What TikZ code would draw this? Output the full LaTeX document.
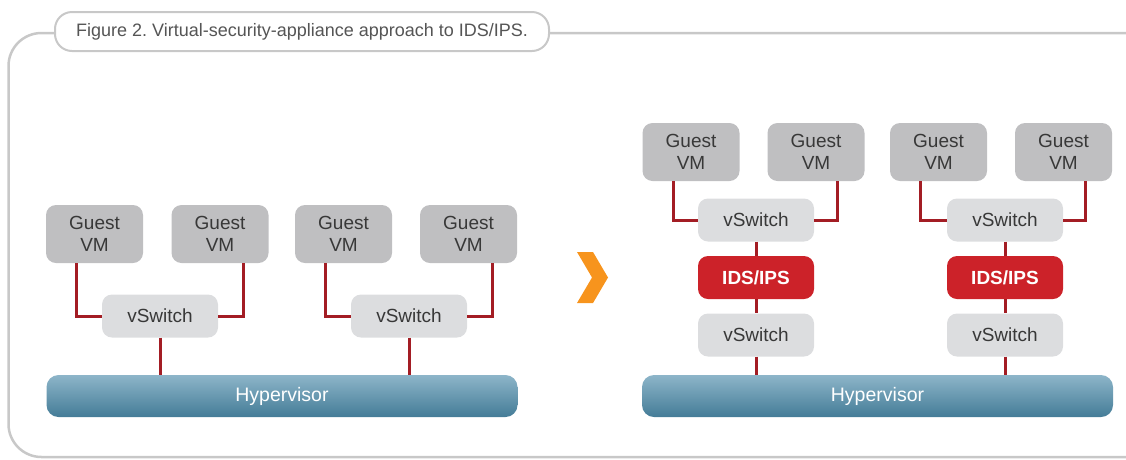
\documentclass[tikz,border=0pt]{standalone}
\usepackage{fontspec}
\setmainfont{Liberation Sans}
\frenchspacing
\definecolor{framegray}{HTML}{C8C8C8}
\definecolor{titletext}{HTML}{555555}
\definecolor{vmgray}{HTML}{BFBFC1}
\definecolor{swgray}{HTML}{DCDDDF}
\definecolor{idsred}{HTML}{CC2229}
\definecolor{linkred}{HTML}{A31D24}
\definecolor{hvtop}{HTML}{8DB5C9}
\definecolor{hvbot}{HTML}{447C97}
\definecolor{labeltext}{HTML}{383838}
\definecolor{chevron}{HTML}{F7941D}
\tikzset{
  vmbox/.style={fill=vmgray, rounded corners=10pt, minimum width=97pt, minimum height=58pt,
    inner sep=0pt, align=center, text=labeltext, font=\fontsize{19}{22}\selectfont},
  swbox/.style={fill=swgray, rounded corners=10pt, minimum width=116pt, minimum height=43pt,
    inner sep=0pt, text=labeltext, font=\fontsize{19}{22}\selectfont},
  idsbox/.style={fill=idsred, rounded corners=10pt, minimum width=116pt, minimum height=43pt,
    inner sep=0pt, text=white, font=\fontsize{19}{22}\selectfont\bfseries},
  hvbox/.style={top color=hvtop, bottom color=hvbot, rounded corners=12pt,
    minimum width=471pt, minimum height=42pt, inner sep=0pt, text=white,
    font=\fontsize{19.5}{22}\selectfont},
  link/.style={draw=linkred, line width=3pt}
}
\begin{document}
\begin{tikzpicture}[x=1pt, y=-1pt]
\useasboundingbox (0,0) rectangle (1126,459);
% outer frame, open to the right
\begin{scope}
\clip (0,0) rectangle (1126,459);
\draw[framegray, line width=2.5pt, rounded corners=33pt] (8.5,33) rectangle (1160,457);
\end{scope}
% caption tab
\node (title) [draw=framegray, line width=2pt, fill=white, rounded corners=17pt,
  minimum width=494pt, minimum height=39pt, inner sep=0pt, text=titletext,
  font=\fontsize{18}{20}\selectfont] at (302,31.5)
  {Figure 2. Virtual-security-appliance approach to IDS/IPS.};

% ---- left: guests attached directly to vSwitches ----
\node (lvm1) [vmbox] at (94.5,234) {Guest\\VM};
\node (lvm2) [vmbox] at (220,234) {Guest\\VM};
\node (lvm3) [vmbox] at (343.5,234) {Guest\\VM};
\node (lvm4) [vmbox] at (468.5,234) {Guest\\VM};
\node (lsw1) [swbox] at (160,316) {vSwitch};
\node (lsw2) [swbox] at (409,316) {vSwitch};
\node (lhv) [hvbox] at (282,396) {Hypervisor};

\draw[link] ([xshift=31pt]lvm1.south west) |- (lsw1.west);
\draw[link] ([xshift=-25pt]lvm2.south east) |- (lsw1.east);
\draw[link] ([xshift=31pt]lvm3.south west) |- (lsw2.west);
\draw[link] ([xshift=-25pt]lvm4.south east) |- (lsw2.east);
\draw[link] (lsw1.south) -- (lsw1.south |- lhv.north);
\draw[link] (lsw2.south) -- (lsw2.south |- lhv.north);

% ---- arrow ----
\fill[chevron] (577,252) -- (593,252) -- (608,277.5) -- (593,303) -- (577,303) -- (592,277.5) -- cycle;

% ---- right: IDS/IPS appliance between two vSwitches ----
\node (rvm1) [vmbox] at (691,152) {Guest\\VM};
\node (rvm2) [vmbox] at (816,152) {Guest\\VM};
\node (rvm3) [vmbox] at (938.5,152) {Guest\\VM};
\node (rvm4) [vmbox] at (1063.5,152) {Guest\\VM};
\node (rsw1) [swbox] at (756,220) {vSwitch};
\node (rids1) [idsbox] at (756,277.5) {IDS/IPS};
\node (rswb1) [swbox] at (756,335) {vSwitch};
\node (rsw2) [swbox] at (1005,220) {vSwitch};
\node (rids2) [idsbox] at (1005,277.5) {IDS/IPS};
\node (rswb2) [swbox] at (1005,335) {vSwitch};
\node (rhv) [hvbox] at (877.5,396) {Hypervisor};

\draw[link] ([xshift=31pt]rvm1.south west) |- (rsw1.west);
\draw[link] ([xshift=-27pt]rvm2.south east) |- (rsw1.east);
\draw[link] ([xshift=31pt]rvm3.south west) |- (rsw2.west);
\draw[link] ([xshift=-27pt]rvm4.south east) |- (rsw2.east);
\draw[link] (rsw1) -- (rids1);
\draw[link] (rids1) -- (rswb1);
\draw[link] (rswb1.south) -- (rswb1.south |- rhv.north);
\draw[link] (rsw2) -- (rids2);
\draw[link] (rids2) -- (rswb2);
\draw[link] (rswb2.south) -- (rswb2.south |- rhv.north);
\end{tikzpicture}
\end{document}
